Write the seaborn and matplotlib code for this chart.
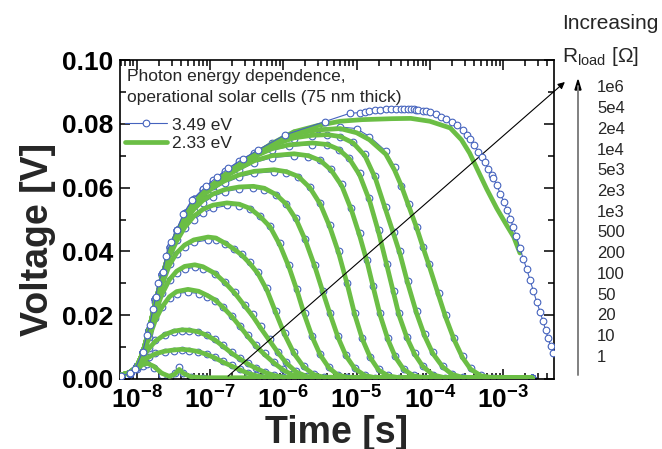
import numpy as np
import pandas as pd
import matplotlib
matplotlib.use("Agg")
import matplotlib.pyplot as plt
import seaborn as sns
from matplotlib.lines import Line2D
from matplotlib.ticker import FuncFormatter, FormatStrFormatter, FixedLocator, LogLocator, MultipleLocator

# load resistances (legend column on the right, bottom to top)
r_load = ["1", "10", "20", "50", "100", "200", "500", "1e3", "2e3", "5e3", "1e4", "2e4", "5e4", "1e6"]
x_decades = [1e-8, 1e-7, 1e-6, 1e-5, 1e-4, 1e-3]

# time points [s] per curve
t_pts = {
    "1":   [6e-9, 8e-9, 1e-8, 1.2e-8, 1.4e-8, 1.7e-8, 2.2e-8, 2.8e-8, 3.3e-8, 3.8e-8, 4.3e-8, 5.5e-8, 8e-8, 2.5e-3],
    "10":  [6e-9, 8e-9, 1e-8, 1.2e-8, 1.45e-8, 1.8e-8, 2.4e-8, 3.2e-8, 4.1e-8, 5.2e-8, 6.9e-8, 9e-8, 1.17e-7, 1.5e-7,
            2e-7, 2.6e-7, 3.3e-7, 4.2e-7, 5.5e-7, 8e-7, 2.5e-3],
    "20":  [6e-9, 8e-9, 1e-8, 1.2e-8, 1.45e-8, 1.8e-8, 2.4e-8, 3.2e-8, 4.1e-8, 5.2e-8, 6.9e-8, 9e-8, 1.17e-7, 1.5e-7,
            2e-7, 2.6e-7, 3.3e-7, 4.2e-7, 5.6e-7, 7.5e-7, 1e-6, 1.4e-6, 2.5e-3],
    "50":  [6e-9, 8e-9, 1e-8, 1.2e-8, 1.45e-8, 1.8e-8, 2.2e-8, 2.8e-8, 3.5e-8, 5e-8, 7e-8, 9e-8, 1.17e-7, 1.5e-7,
            2e-7, 2.6e-7, 3.3e-7, 4.2e-7, 5.6e-7, 7.5e-7, 1e-6, 1.3e-6, 1.8e-6, 2.5e-3],
    "100": [6e-9, 8e-9, 1e-8, 1.2e-8, 1.45e-8, 1.8e-8, 2.2e-8, 2.8e-8, 3.5e-8, 4.5e-8, 6.2e-8, 8e-8, 1.17e-7, 1.6e-7,
            2.2e-7, 3e-7, 3.8e-7, 4.9e-7, 6.5e-7, 8.5e-7, 1.1e-6, 1.5e-6, 2.1e-6, 3e-6, 2.5e-3],
    "200": [6e-9, 8e-9, 1e-8, 1.2e-8, 1.45e-8, 1.8e-8, 2.2e-8, 2.8e-8, 3.5e-8, 4.5e-8, 6e-8, 9.4e-8, 1.2e-7, 1.6e-7,
            2.1e-7, 2.7e-7, 3.5e-7, 4.5e-7, 6e-7, 8e-7, 1.05e-6, 1.4e-6, 1.9e-6, 2.6e-6, 3.6e-6, 2.5e-3],
    "500": [6e-9, 8e-9, 1e-8, 1.2e-8, 1.45e-8, 1.8e-8, 2.2e-8, 2.8e-8, 3.5e-8, 4.5e-8, 6e-8, 8e-8, 1.1e-7, 1.7e-7,
            2.5e-7, 3.5e-7, 4.8e-7, 6.6e-7, 9e-7, 1.2e-6, 1.55e-6, 1.95e-6, 2.5e-6, 3.2e-6, 4.2e-6, 5.5e-6, 7.5e-6, 2.5e-3],
    "1e3": [6e-9, 8e-9, 1e-8, 1.2e-8, 1.45e-8, 1.8e-8, 2.2e-8, 2.8e-8, 3.5e-8, 4.5e-8, 6e-8, 8e-8, 1.1e-7, 1.6e-7,
            2.5e-7, 3.9e-7, 5.5e-7, 8e-7, 1.1e-6, 1.5e-6, 2e-6, 2.7e-6, 3.5e-6, 4.4e-6, 5.6e-6, 7.2e-6, 9.5e-6, 1.3e-5,
            1.8e-5, 2.5e-3],
    "2e3": [6e-9, 8e-9, 1e-8, 1.2e-8, 1.45e-8, 1.8e-8, 2.2e-8, 2.8e-8, 3.5e-8, 4.5e-8, 6e-8, 8e-8, 1.1e-7, 1.6e-7,
            2.5e-7, 4e-7, 7.5e-7, 1.1e-6, 1.6e-6, 2.3e-6, 3.2e-6, 4.3e-6, 5.7e-6, 7.5e-6, 9.5e-6, 1.2e-5, 1.55e-5, 2e-5,
            2.7e-5, 3.8e-5, 2.5e-3],
    "5e3": [6e-9, 8e-9, 1e-8, 1.2e-8, 1.45e-8, 1.8e-8, 2.2e-8, 2.8e-8, 3.5e-8, 4.5e-8, 6e-8, 8e-8, 1.1e-7, 1.6e-7,
            2.5e-7, 4e-7, 7e-7, 1.4e-6, 2.2e-6, 3.2e-6, 4.5e-6, 6.3e-6, 8.5e-6, 1.1e-5, 1.4e-5, 1.7e-5, 2.1e-5, 2.7e-5,
            3.4e-5, 4.4e-5, 6e-5, 8.5e-5, 2.5e-3],
    "1e4": [6e-9, 8e-9, 1e-8, 1.2e-8, 1.45e-8, 1.8e-8, 2.2e-8, 2.8e-8, 3.5e-8, 4.5e-8, 6e-8, 8e-8, 1.1e-7, 1.6e-7,
            2.5e-7, 4e-7, 7e-7, 1.2e-6, 2.5e-6, 4e-6, 5.7e-6, 8e-6, 1.1e-5, 1.5e-5, 2e-5, 2.6e-5, 3.2e-5, 3.8e-5,
            4.9e-5, 6.2e-5, 8e-5, 1.1e-4, 1.6e-4, 2.5e-3],
    "2e4": [6e-9, 8e-9, 1e-8, 1.2e-8, 1.45e-8, 1.8e-8, 2.2e-8, 2.8e-8, 3.5e-8, 4.5e-8, 6e-8, 8e-8, 1.1e-7, 1.6e-7,
            2.5e-7, 4e-7, 7e-7, 1.4e-6, 2.5e-6, 4e-6, 6e-6, 9e-6, 1.3e-5, 1.8e-5, 2.5e-5, 3.2e-5, 3.9e-5, 5e-5, 6.6e-5,
            8.5e-5, 1.1e-4, 1.5e-4, 2e-4, 2.8e-4, 2.5e-3],
    "5e4": [6e-9, 8e-9, 1e-8, 1.2e-8, 1.45e-8, 1.8e-8, 2.2e-8, 2.8e-8, 3.5e-8, 4.5e-8, 6e-8, 8e-8, 1.1e-7, 1.6e-7,
            2.5e-7, 4e-7, 7e-7, 1.4e-6, 3e-6, 6e-6, 1e-5, 1.5e-5, 2.5e-5, 3.3e-5, 4.1e-5, 5.2e-5, 6.6e-5, 8.2e-5, 9.9e-5,
            1.32e-4, 1.65e-4, 2.15e-4, 2.8e-4, 3.6e-4, 5e-4, 7.4e-4, 2.5e-3],
    "1e6": [6e-9, 8e-9, 1e-8, 1.2e-8, 1.45e-8, 1.8e-8, 2.2e-8, 2.8e-8, 3.5e-8, 4.5e-8, 6e-8, 8e-8, 1.1e-7, 1.6e-7,
            2.5e-7, 4e-7, 7e-7, 1.4e-6, 3e-6, 6e-6, 1.2e-5, 3e-5, 5.5e-5, 1e-4, 1.9e-4, 2.7e-4, 3.5e-4, 4.5e-4, 6e-4,
            8.2e-4, 1.1e-3, 1.4e-3, 1.7e-3],
}

# 2.33 eV excitation [V]
v_green = {
    "1":   [.0012, .0020, .0032, .0045, .0049, .0040, .0018, .0008, .0015, .0030, .0018, .0007, .0004, .0003],
    "10":  [.0012, .0020, .0036, .0056, .0068, .0079, .0087, .0091, .0093, .0091, .0086, .0077, .0066, .0053,
            .0040, .0028, .0018, .0011, .0006, .0004, .0003],
    "20":  [.0012, .0020, .0037, .0066, .0094, .0119, .0139, .0150, .0154, .0153, .0148, .0137, .0122, .0103,
            .0080, .0062, .0047, .0034, .0021, .0011, .0006, .0004, .0003],
    "50":  [.0012, .0020, .0038, .0075, .0125, .0185, .0225, .0258, .0274, .0281, .0275, .0263, .0248, .0225,
            .0195, .0163, .0133, .0104, .0076, .0050, .0028, .0014, .0006, .0003],
    "100": [.0012, .0020, .0038, .0078, .0138, .0210, .0265, .0312, .0338, .0353, .0358, .0352, .0331, .0302,
            .0268, .0228, .0198, .0160, .0120, .0082, .0050, .0022, .0008, .0004, .0003],
    "200": [.0012, .0020, .0038, .0080, .0145, .0230, .0295, .0358, .0395, .0420, .0436, .0445, .0442, .0426,
            .0408, .0389, .0362, .0331, .0278, .0205, .0138, .0080, .0038, .0014, .0005, .0003],
    "500": [.0012, .0020, .0038, .0080, .0148, .0238, .0312, .0385, .0432, .0475, .0510, .0532, .0545, .0552,
            .0548, .0535, .0510, .0477, .0420, .0350, .0275, .0200, .0130, .0075, .0035, .0013, .0005, .0003],
    "1e3": [.0012, .0020, .0038, .0080, .0148, .0240, .0316, .0395, .0448, .0494, .0532, .0560, .0580, .0594,
            .0602, .0604, .0598, .0578, .0548, .0500, .0435, .0352, .0270, .0200, .0130, .0072, .0032, .0011,
            .0004, .0003],
    "2e3": [.0012, .0020, .0038, .0080, .0148, .0240, .0318, .0400, .0455, .0503, .0545, .0576, .0600, .0622,
            .0640, .0651, .0656, .0650, .0635, .0600, .0548, .0478, .0395, .0295, .0200, .0125, .0066, .0028,
            .0010, .0004, .0003],
    "5e3": [.0012, .0020, .0038, .0080, .0148, .0240, .0318, .0400, .0455, .0505, .0550, .0580, .0606, .0634,
            .0660, .0684, .0700, .0706, .0700, .0685, .0655, .0605, .0530, .0450, .0365, .0285, .0200, .0122,
            .0068, .0030, .0010, .0004, .0003],
    "1e4": [.0012, .0020, .0038, .0080, .0148, .0240, .0318, .0400, .0455, .0505, .0550, .0582, .0610, .0638,
            .0668, .0697, .0722, .0734, .0740, .0735, .0720, .0690, .0640, .0560, .0460, .0355, .0270, .0200,
            .0128, .0078, .0040, .0013, .0004, .0003],
    "2e4": [.0012, .0020, .0038, .0080, .0148, .0240, .0318, .0400, .0455, .0505, .0550, .0582, .0610, .0640,
            .0670, .0702, .0732, .0756, .0764, .0766, .0760, .0740, .0700, .0630, .0530, .0455, .0394, .0300,
            .0206, .0135, .0080, .0038, .0015, .0005, .0003],
    "5e4": [.0012, .0020, .0038, .0080, .0148, .0240, .0318, .0400, .0455, .0505, .0550, .0582, .0610, .0640,
            .0672, .0703, .0737, .0768, .0781, .0785, .0772, .0750, .0705, .0655, .0605, .0540, .0475, .0408,
            .0352, .0262, .0193, .0123, .0067, .0031, .0010, .0004, .0003],
    "1e6": [.0012, .0020, .0038, .0080, .0148, .0240, .0318, .0400, .0455, .0505, .0550, .0582, .0610, .0640,
            .0672, .0703, .0738, .0775, .0795, .0808, .0813, .0816, .0817, .0808, .0787, .0750, .0708, .0655,
            .0595, .0535, .0485, .0445, .0395],
}

# 3.49 eV excitation [V] (same time points, except the 1e6 curve)
v_blue = {
    "1":   [.0008, .0016, .0030, .0042, .0046, .0036, .0013, .0006, .0018, .0038, .0020, .0006, .0004, .0003],
    "10":  [.0008, .0018, .0038, .0058, .0070, .0080, .0086, .0089, .0090, .0089, .0085, .0078, .0068, .0056,
            .0043, .0031, .0020, .0012, .0007, .0004, .0003],
    "20":  [.0008, .0018, .0039, .0070, .0098, .0121, .0138, .0147, .0151, .0151, .0147, .0138, .0124, .0106,
            .0084, .0065, .0050, .0036, .0023, .0012, .0006, .0004, .0003],
    "50":  [.0008, .0018, .0040, .0080, .0132, .0190, .0226, .0255, .0268, .0272, .0268, .0258, .0246, .0226,
            .0198, .0167, .0137, .0108, .0080, .0053, .0030, .0015, .0006, .0003],
    "100": [.0008, .0018, .0040, .0083, .0145, .0218, .0270, .0310, .0332, .0345, .0350, .0346, .0330, .0304,
            .0272, .0233, .0203, .0165, .0125, .0086, .0053, .0024, .0009, .0004, .0003],
    "200": [.0008, .0018, .0040, .0085, .0152, .0240, .0305, .0362, .0393, .0414, .0428, .0436, .0436, .0424,
            .0409, .0391, .0366, .0336, .0284, .0212, .0143, .0084, .0040, .0015, .0005, .0003],
    "500": [.0008, .0018, .0040, .0085, .0155, .0248, .0322, .0395, .0436, .0472, .0500, .0520, .0535, .0544,
            .0543, .0533, .0512, .0481, .0426, .0356, .0281, .0206, .0135, .0079, .0037, .0014, .0005, .0003],
    "1e3": [.0008, .0018, .0040, .0085, .0155, .0250, .0326, .0405, .0453, .0494, .0527, .0552, .0572, .0587,
            .0596, .0598, .0594, .0577, .0550, .0504, .0440, .0358, .0276, .0206, .0135, .0076, .0034, .0012,
            .0004, .0003],
    "2e3": [.0008, .0018, .0040, .0085, .0155, .0250, .0330, .0410, .0462, .0508, .0546, .0572, .0594, .0615,
            .0633, .0645, .0650, .0646, .0633, .0601, .0552, .0484, .0401, .0301, .0206, .0130, .0070, .0030,
            .0011, .0004, .0003],
    "5e3": [.0008, .0018, .0040, .0085, .0155, .0250, .0330, .0415, .0468, .0518, .0560, .0584, .0605, .0630,
            .0655, .0678, .0694, .0700, .0697, .0685, .0658, .0610, .0537, .0457, .0372, .0291, .0206, .0127,
            .0071, .0032, .0011, .0004, .0003],
    "1e4": [.0008, .0018, .0040, .0085, .0155, .0250, .0330, .0415, .0468, .0520, .0565, .0593, .0615, .0640,
            .0668, .0694, .0717, .0729, .0735, .0732, .0719, .0692, .0645, .0567, .0467, .0362, .0276, .0206,
            .0133, .0082, .0042, .0014, .0004, .0003],
    "2e4": [.0008, .0018, .0040, .0085, .0155, .0250, .0330, .0415, .0468, .0520, .0565, .0595, .0621, .0648,
            .0676, .0704, .0731, .0753, .0761, .0764, .0760, .0743, .0706, .0637, .0538, .0462, .0400, .0306,
            .0212, .0140, .0084, .0040, .0016, .0005, .0003],
    "5e4": [.0008, .0018, .0040, .0085, .0155, .0250, .0330, .0415, .0468, .0520, .0565, .0595, .0623, .0653,
            .0683, .0710, .0740, .0770, .0785, .0790, .0785, .0760, .0715, .0665, .0605, .0550, .0478, .0415,
            .0360, .0270, .0200, .0130, .0072, .0034, .0011, .0004, .0003],
}

t_blue_1e6 = [6e-9, 8e-9, 9.4e-9, 1.2e-8, 1.37e-8, 1.5e-8, 1.67e-8, 1.82e-8, 1.95e-8, 2.25e-8, 2.5e-8, 2.9e-8,
              3.5e-8, 4.3e-8, 5.6e-8, 8.9e-8, 1.25e-7, 1.77e-7, 2.8e-7, 4.5e-7, 1.05e-6, 3.7e-6, 8.1e-6, 1.1e-5,
              1.3e-5, 1.5e-5, 1.8e-5, 2.1e-5, 2.5e-5, 3e-5, 3.5e-5, 4e-5, 4.5e-5, 5e-5, 5.5e-5, 6e-5, 6.5e-5,
              7e-5, 8e-5, 9e-5, 1e-4, 1.2e-4, 1.4e-4, 1.65e-4, 2e-4, 2.35e-4, 2.8e-4, 3.2e-4, 3.5e-4, 4e-4,
              4.6e-4, 5.1e-4, 5.6e-4, 6.3e-4, 7e-4, 7.4e-4, 8.2e-4, 9.2e-4, 1.02e-3, 1.14e-3, 1.26e-3, 1.38e-3,
              1.52e-3, 1.7e-3, 1.9e-3, 2.1e-3, 2.34e-3, 2.6e-3, 2.9e-3, 3.2e-3, 3.5e-3, 3.8e-3, 4.1e-3,
              4.45e-3, 4.8e-3]
v_blue_1e6 = [.0008, .0018, .0030, .0085, .0138, .0170, .0220, .0258, .0300, .0336, .0386, .0430,
              .0468, .0517, .0560, .0605, .0634, .0660, .0690, .0718, .0765, .0807, .0833, .0835,
              .0838, .0840, .0843, .0844, .0845, .0845, .0846, .0846, .0846, .0846, .0845, .0845, .0844,
              .0843, .0841, .0839, .0837, .0830, .0822, .0814, .0805, .0795, .0780, .0765, .0752, .0735,
              .0713, .0697, .0680, .0658, .0640, .0630, .0608, .0580, .0556, .0530, .0503, .0475,
              .0447, .0410, .0375, .0345, .0310, .0275, .0240, .0210, .0182, .0155, .0130,
              .0104, .0080]

# long tables for seaborn
green_df = pd.concat([pd.DataFrame({"t": t_pts[r], "V": v_green[r], "R": r}) for r in r_load], ignore_index=True)
blue_df = pd.concat([pd.DataFrame({"t": t_pts[r], "V": v_blue[r], "R": r}) for r in r_load[:-1]], ignore_index=True)
blue_top = pd.DataFrame({"t": t_blue_1e6, "V": v_blue_1e6, "R": "1e6"})

blue = "#4563BE"
green = "#6BBE45"

sns.set_theme(style="ticks")
plt.rcParams["font.family"] = ["Liberation Sans", "DejaVu Sans"]
plt.rcParams["mathtext.fontset"] = "custom"
plt.rcParams["mathtext.rm"] = "Liberation Sans"
plt.rcParams["mathtext.bf"] = "Liberation Sans:bold"
plt.rcParams["mathtext.it"] = "Liberation Sans:italic"

fig = plt.figure(figsize=(6.62, 4.49), dpi=100)
ax = fig.add_axes([120 / 662, 1 - 379 / 449, 434 / 662, 319 / 449])
ax.set_xscale("log")

mk = dict(marker="o", markersize=4.8, markerfacecolor="white", markeredgecolor=blue, markeredgewidth=0.8)
sns.lineplot(data=blue_df, x="t", y="V", units="R", estimator=None, sort=False, color=blue, lw=0.8,
             legend=False, ax=ax, zorder=2, **mk)
sns.lineplot(data=green_df, x="t", y="V", units="R", estimator=None, sort=False, color=green, lw=3.4,
             legend=False, ax=ax, zorder=3)
sns.lineplot(data=blue_top, x="t", y="V", estimator=None, sort=False, color=blue, lw=0.8,
             legend=False, ax=ax, zorder=4, **mk)

ax.set_xlim(5.9e-9, 4.96e-3)
ax.set_ylim(0, 0.1)
ax.xaxis.set_major_locator(FixedLocator(x_decades))
ax.xaxis.set_minor_locator(LogLocator(base=10, subs=np.arange(2, 10), numticks=20))
ax.xaxis.set_major_formatter(FuncFormatter(lambda v, p: r"$\mathbf{10^{%d}}$" % round(np.log10(v))))
ax.yaxis.set_major_locator(MultipleLocator(0.02))
ax.yaxis.set_minor_locator(MultipleLocator(0.01))
ax.yaxis.set_major_formatter(FormatStrFormatter("%.2f"))

ax.tick_params(which="both", direction="in", top=True, right=True, width=1.1, colors="black")
ax.tick_params(which="major", length=7, labelsize=19, pad=5)
ax.tick_params(which="minor", length=4)
for lab in ax.get_yticklabels():
    lab.set_fontweight("bold")
for sp in ax.spines.values():
    sp.set_linewidth(1.2)
    sp.set_color("black")

ax.set_xlabel("Time [s]", fontsize=27, fontweight="bold", labelpad=1)
ax.set_ylabel("Voltage [V]", fontsize=27, fontweight="bold")
ax.yaxis.set_label_coords(-0.148, 0.436)

# legend: two-line heading, then the two photon energies
ax.text(0.016, 0.972, "Photon energy dependence,\noperational solar cells (75 nm thick)", transform=ax.transAxes,
        fontsize=12.5, va="top", ha="left", linespacing=1.5)
handles = [Line2D([], [], color=blue, lw=0.8, **mk), Line2D([], [], color=green, lw=3.4)]
ax.legend(handles, ["3.49 eV", "2.33 eV"], loc="upper left", bbox_to_anchor=(0.012, 0.82), frameon=False,
          fontsize=12.5, borderpad=0, borderaxespad=0, handlelength=2.4, handletextpad=0.3, labelspacing=0.2)

# diagonal arrow across the curves
ax.annotate("", xy=(1.025, 0.931), xytext=(0.249, 0.009), xycoords="axes fraction",
            arrowprops=dict(arrowstyle="-|>", color="black", lw=0.8, mutation_scale=10, shrinkA=0, shrinkB=0),
            annotation_clip=False)

# R_load column on the right
fig.text(562 / 662, 1 - 29 / 449, "Increasing", fontsize=15, va="baseline", ha="left")
fig.text(562 / 662, 1 - 62 / 449, r"R$_{\mathregular{load}}$ [Ω]", fontsize=15, va="baseline", ha="left")
for i, lab in enumerate(r_load[::-1]):
    fig.text(597 / 662, 1 - (88 + i * 20.7) / 449, lab, fontsize=12, va="center", ha="left")
fig.add_artist(Line2D([578 / 662, 578 / 662], [1 - 375 / 449, 1 - 86 / 449], color="#808080", lw=1.4,
                      transform=fig.transFigure))
fig.add_artist(plt.Polygon([[575 / 662, 1 - 90 / 449], [581 / 662, 1 - 90 / 449], [578 / 662, 1 - 80 / 449]],
                           closed=True, color="black", transform=fig.transFigure))

fig.savefig("out.png", dpi=100)
